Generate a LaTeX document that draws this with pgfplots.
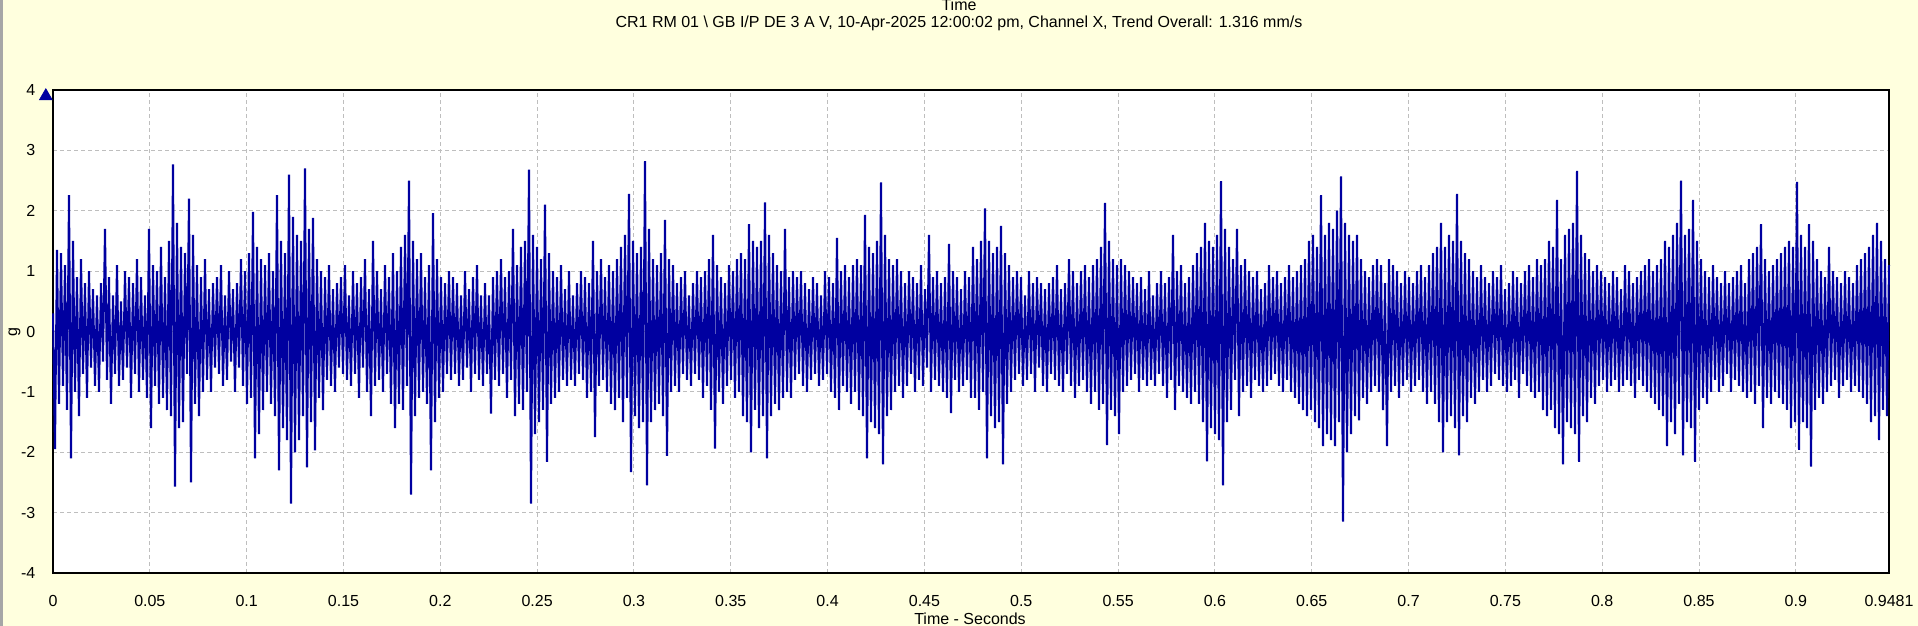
\documentclass[border=0pt]{standalone}
\usepackage{pgfplots}
\pgfplotsset{compat=1.18}
\usepackage{fontspec}
\setmainfont{Liberation Sans}
\definecolor{bgyel}{RGB}{255,255,222}
\definecolor{sig}{RGB}{0,0,160}
\definecolor{gridc}{RGB}{190,190,190}
\begin{document}
\begin{tikzpicture}[x=1pt,y=1pt,font=\fontsize{8}{9.6}\selectfont]
\useasboundingbox (0,0) rectangle (959,313);
\fill[bgyel] (0,0) rectangle (959,313);
\draw[gray!70,line width=1.2pt] (0.8,0) -- (0.8,313);
\begin{axis}[
  at={(26.5pt,26.5pt)}, anchor=south west,
  scale only axis, width=918pt, height=241.5pt,
  xmin=0, xmax=0.9481, ymin=-4, ymax=4,
  axis background/.style={fill=white},
  axis line style={black,line width=1pt},
  clip=false,
  xtick={0,0.05,0.1,0.15,0.2,0.25,0.3,0.35,0.4,0.45,0.5,0.55,0.6,0.65,0.7,0.75,0.8,0.85,0.9,0.9481},
  xticklabels={0,0.05,0.1,0.15,0.2,0.25,0.3,0.35,0.4,0.45,0.5,0.55,0.6,0.65,0.7,0.75,0.8,0.85,0.9,0.9481},
  ytick={-4,-3,-2,-1,0,1,2,3,4},
  yticklabels={-4,-3,-2,-1,0,1,2,3,4},
  major tick length=0pt,
  xmajorgrids, ymajorgrids,
  grid style={gridc,line width=0.5pt,dash pattern=on 2pt off 1.5pt},
  xticklabel style={yshift=-7.4pt},
  yticklabel style={xshift=-5.3pt},
  tick label style={font=\fontsize{8}{9.6}\selectfont},
]
\addplot[sig, line width=1pt, line join=bevel] table[row sep=\\, header=false, x expr=\coordindex*0.00103279, y index=0] {
0.3\\ -1.95\\ 1.35\\ -1.2\\ 1.3\\ -0.9\\ 1.1\\ -1.3\\ 2.26\\ -2.1\\ 1.5\\ -1.0\\ 0.9\\ -1.4\\ 1.2\\ -0.7\\ 0.8\\ -1.1\\ 1.0\\ -0.6\\
0.7\\ -0.9\\ 0.6\\ -1.0\\ 0.8\\ -0.5\\ 1.7\\ -0.8\\ 0.9\\ -1.2\\ 0.6\\ -0.7\\ 1.1\\ -0.9\\ 0.5\\ -0.8\\ 1.0\\ -0.6\\ 0.9\\ -1.1\\
0.8\\ -0.7\\ 1.2\\ -1.0\\ 0.9\\ -0.8\\ 0.6\\ -1.1\\ 1.7\\ -1.6\\ 1.1\\ -0.9\\ 1.0\\ -1.2\\ 1.4\\ -1.1\\ 0.9\\ -1.3\\ 1.5\\ -1.4\\
2.77\\ -2.57\\ 1.8\\ -1.6\\ 1.4\\ -1.5\\ 1.3\\ -0.7\\ 2.2\\ -2.5\\ 1.6\\ -1.2\\ 1.1\\ -1.4\\ 0.9\\ -1.0\\ 1.2\\ -0.8\\ 0.7\\ -1.0\\ 0.8\\
-0.6\\ 0.9\\ -0.7\\ 1.1\\ -0.9\\ 0.6\\ -0.8\\ 1.0\\ -0.5\\ 0.7\\ -1.0\\ 0.8\\ -0.6\\ 1.2\\ -0.9\\ 1.0\\ -1.2\\ 1.3\\ -1.1\\ 1.98\\
-2.1\\ 1.4\\ -1.7\\ 1.2\\ -1.3\\ 1.1\\ -1.0\\ 1.3\\ -1.2\\ 1.0\\ -1.4\\ 2.26\\ -2.3\\ 1.5\\ -1.6\\ 1.3\\ -1.8\\ 2.6\\ -2.85\\
1.9\\ -2.0\\ 1.6\\ -1.8\\ 1.5\\ -1.4\\ 2.7\\ -2.25\\ 1.7\\ -1.5\\ 1.88\\ -1.97\\ 1.2\\ -1.1\\ 1.0\\ -1.3\\ 0.9\\ -0.8\\ 1.1\\ -0.9\\
0.7\\ -1.0\\ 0.8\\ -0.6\\ 0.9\\ -0.7\\ 1.1\\ -0.8\\ 0.6\\ -0.9\\ 1.0\\ -0.7\\ 0.8\\ -1.1\\ 0.9\\ -0.6\\ 1.2\\ -1.0\\ 0.7\\ -1.4\\ 1.5\\
-0.9\\ 1.0\\ -0.8\\ 0.7\\ -1.0\\ 1.1\\ -0.7\\ 0.9\\ -1.2\\ 1.3\\ -1.6\\ 1.0\\ -1.2\\ 1.4\\ -1.3\\ 1.6\\ -0.9\\ 2.5\\ -2.7\\ 1.5\\
-1.4\\ 1.2\\ -1.1\\ 1.3\\ -1.0\\ 0.9\\ -1.2\\ 1.1\\ -2.3\\ 1.96\\ -1.5\\ 1.2\\ -1.1\\ 0.9\\ -1.0\\ 0.8\\ -0.7\\ 1.0\\ -0.8\\
0.9\\ -0.7\\ 0.8\\ -0.9\\ 0.6\\ -0.8\\ 1.0\\ -0.6\\ 0.7\\ -1.0\\ 0.9\\ -0.7\\ 1.1\\ -0.8\\ 0.6\\ -0.9\\ 0.8\\ -0.7\\ 0.6\\ -1.36\\ 0.9\\
-0.8\\ 1.0\\ -0.9\\ 1.2\\ -0.7\\ 0.9\\ -1.1\\ 1.0\\ -0.8\\ 1.7\\ -1.4\\ 1.1\\ -1.2\\ 1.4\\ -1.3\\ 1.5\\ -1.0\\ 2.68\\ -2.85\\ 1.6\\
-1.7\\ 1.4\\ -1.5\\ 1.2\\ -1.3\\ 2.1\\ -2.16\\ 1.3\\ -1.2\\ 1.0\\ -1.1\\ 0.9\\ -1.0\\ 1.1\\ -0.8\\ 0.7\\ -0.9\\ 1.0\\ -0.8\\
0.6\\ -0.9\\ 0.8\\ -0.7\\ 1.0\\ -0.8\\ 0.9\\ -1.1\\ 0.8\\ -1.0\\ 1.5\\ -1.75\\ 1.0\\ -0.9\\ 1.2\\ -0.8\\ 0.9\\ -1.0\\ 1.1\\ -1.2\\
1.0\\ -1.3\\ 1.2\\ -1.1\\ 1.4\\ -1.5\\ 1.6\\ -1.1\\ 2.28\\ -2.33\\ 1.5\\ -1.4\\ 1.3\\ -1.6\\ 1.4\\ -1.5\\ 2.82\\ -2.55\\ 1.7\\ -1.5\\ 1.2\\
-1.3\\ 1.1\\ -1.2\\ 1.3\\ -1.4\\ 1.85\\ -2.06\\ 1.2\\ -1.0\\ 1.1\\ -0.9\\ 0.8\\ -1.0\\ 0.9\\ -0.7\\ 1.0\\ -0.8\\ 0.6\\ -0.9\\ 0.8\\
-0.7\\ 1.0\\ -0.8\\ 0.9\\ -1.1\\ 1.0\\ -0.9\\ 1.2\\ -1.3\\ 1.6\\ -1.94\\ 1.1\\ -1.0\\ 0.9\\ -1.2\\ 0.8\\ -0.9\\ 1.1\\ -0.8\\ 1.0\\
-1.1\\ 1.2\\ -1.0\\ 1.3\\ -1.4\\ 1.2\\ -1.5\\ 1.78\\ -2.0\\ 1.5\\ -1.3\\ 1.4\\ -1.6\\ 1.5\\ -1.4\\ 2.14\\ -2.1\\ 1.6\\ -1.4\\ 1.3\\
-1.2\\ 1.1\\ -1.3\\ 1.0\\ -1.1\\ 1.7\\ -1.0\\ 0.9\\ -1.1\\ 1.0\\ -0.8\\ 0.9\\ -0.7\\ 1.0\\ -0.9\\ 0.8\\ -1.0\\ 0.7\\ -0.8\\ 0.9\\
-0.7\\ 0.8\\ -0.9\\ 0.6\\ -0.8\\ 1.0\\ -0.7\\ 0.9\\ -1.0\\ 0.8\\ -1.1\\ 1.55\\ -1.3\\ 1.0\\ -0.9\\ 1.1\\ -1.0\\ 0.9\\ -1.2\\ 1.1\\
-1.0\\ 1.2\\ -1.3\\ 1.1\\ -1.4\\ 1.93\\ -2.1\\ 1.4\\ -1.5\\ 1.3\\ -1.6\\ 1.5\\ -1.7\\ 2.47\\ -2.2\\ 1.6\\ -1.4\\ 1.2\\ -1.3\\
1.1\\ -1.0\\ 1.2\\ -0.9\\ 1.0\\ -1.1\\ 0.8\\ -0.9\\ 1.0\\ -0.7\\ 0.9\\ -1.0\\ 0.8\\ -0.8\\ 1.1\\ -0.9\\ 0.7\\ -0.6\\ 1.6\\ -1.0\\ 0.9\\
-0.8\\ 1.0\\ -0.9\\ 0.8\\ -1.0\\ 0.9\\ -1.1\\ 1.45\\ -1.35\\ 1.0\\ -0.8\\ 0.9\\ -1.0\\ 0.7\\ -0.9\\ 1.0\\ -0.8\\ 0.9\\ -1.1\\
1.4\\ -1.1\\ 1.2\\ -1.3\\ 1.5\\ -1.0\\ 2.04\\ -2.1\\ 1.5\\ -1.4\\ 1.3\\ -1.6\\ 1.4\\ -1.5\\ 1.75\\ -2.2\\ 1.3\\ -1.2\\ 1.1\\ -1.0\\ 0.9\\
-0.8\\ 1.0\\ -0.7\\ 0.9\\ -0.9\\ 0.6\\ -0.8\\ 1.0\\ -0.7\\ 0.8\\ -1.0\\ 0.9\\ -0.6\\ 0.8\\ -0.9\\ 0.7\\ -1.0\\ 0.8\\ -0.7\\ 0.9\\
-0.8\\ 1.1\\ -0.9\\ 0.7\\ -1.0\\ 0.8\\ -0.7\\ 1.2\\ -0.9\\ 1.0\\ -1.1\\ 0.8\\ -0.9\\ 1.0\\ -0.8\\ 1.1\\ -1.0\\ 0.9\\ -1.2\\ 1.1\\
-1.0\\ 1.2\\ -1.3\\ 1.4\\ -1.2\\ 2.13\\ -1.88\\ 1.5\\ -1.3\\ 1.2\\ -1.4\\ 1.1\\ -1.7\\ 1.2\\ -1.0\\ 1.1\\ -0.9\\ 1.0\\ -0.8\\ 0.9\\
-0.7\\ 0.8\\ -1.0\\ 0.9\\ -0.8\\ 0.7\\ -0.9\\ 1.0\\ -0.8\\ 0.6\\ -0.9\\ 0.8\\ -0.7\\ 1.0\\ -0.9\\ 0.8\\ -1.1\\ 0.9\\ -0.8\\
1.6\\ -1.3\\ 1.0\\ -0.9\\ 1.1\\ -1.0\\ 0.8\\ -1.1\\ 0.9\\ -1.2\\ 1.1\\ -1.0\\ 1.3\\ -1.2\\ 1.4\\ -1.5\\ 1.8\\ -2.15\\ 1.5\\ -1.6\\
1.4\\ -1.7\\ 1.6\\ -1.8\\ 2.49\\ -2.55\\ 1.7\\ -1.5\\ 1.4\\ -1.3\\ 1.2\\ -0.8\\ 1.7\\ -1.4\\ 1.1\\ -1.0\\ 1.2\\ -0.9\\ 1.0\\ -1.1\\ 0.9\\
-0.8\\ 1.0\\ -0.9\\ 0.7\\ -1.0\\ 0.8\\ -0.9\\ 1.1\\ -0.8\\ 0.9\\ -0.7\\ 1.0\\ -0.9\\ 0.8\\ -1.0\\ 0.9\\ -0.8\\ 1.1\\ -1.0\\ 0.9\\
-1.1\\ 1.0\\ -1.2\\ 1.1\\ -1.3\\ 1.2\\ -1.4\\ 1.5\\ -1.3\\ 1.6\\ -1.5\\ 1.4\\ -1.6\\ 2.26\\ -1.9\\ 1.6\\ -1.7\\ 1.8\\ -1.8\\
1.7\\ -1.9\\ 2.0\\ -1.5\\ 2.57\\ -3.15\\ 1.8\\ -2.0\\ 1.6\\ -1.7\\ 1.5\\ -1.4\\ 1.6\\ -1.47\\ 1.2\\ -1.1\\ 1.0\\ -1.2\\ 0.9\\ -1.0\\
1.1\\ -0.9\\ 1.2\\ -1.0\\ 1.1\\ -1.3\\ 0.8\\ -1.9\\ 1.2\\ -1.0\\ 1.1\\ -0.9\\ 1.0\\ -1.1\\ 0.8\\ -0.9\\ 1.0\\ -0.8\\ 0.9\\ -1.0\\ 0.8\\
-0.9\\ 1.0\\ -0.8\\ 1.1\\ -1.0\\ 0.9\\ -1.2\\ 1.1\\ -1.0\\ 1.3\\ -1.2\\ 1.4\\ -1.5\\ 1.8\\ -2.0\\ 1.4\\ -1.5\\ 1.6\\ -1.4\\
1.5\\ -1.6\\ 2.28\\ -2.05\\ 1.5\\ -1.4\\ 1.3\\ -1.5\\ 1.2\\ -1.1\\ 1.0\\ -1.2\\ 0.9\\ -1.0\\ 1.1\\ -0.8\\ 0.9\\ -1.0\\ 0.8\\ -0.9\\
1.0\\ -0.7\\ 0.9\\ -0.8\\ 1.1\\ -0.9\\ 0.7\\ -1.0\\ 0.8\\ -0.9\\ 1.0\\ -0.8\\ 0.9\\ -1.1\\ 0.8\\ -0.7\\ 1.0\\ -0.9\\ 1.1\\ -1.0\\
0.9\\ -1.1\\ 1.2\\ -1.0\\ 1.1\\ -1.3\\ 1.2\\ -1.4\\ 1.5\\ -1.3\\ 1.4\\ -1.6\\ 2.18\\ -1.7\\ 1.2\\ -2.2\\ 1.6\\ -1.5\\ 1.7\\ -1.6\\ 1.8\\
-1.7\\ 2.66\\ -2.16\\ 1.6\\ -1.4\\ 1.3\\ -1.5\\ 1.2\\ -1.1\\ 1.0\\ -1.2\\ 1.1\\ -0.9\\ 1.0\\ -0.8\\ 0.9\\ -1.0\\ 0.8\\ -0.9\\ 1.0\\
-0.8\\ 0.9\\ -1.0\\ 0.7\\ -0.9\\ 1.1\\ -0.8\\ 1.0\\ -0.9\\ 0.8\\ -1.1\\ 0.9\\ -0.8\\ 1.0\\ -0.9\\ 1.1\\ -1.0\\ 1.2\\ -1.1\\ 1.0\\
-1.2\\ 1.1\\ -1.3\\ 1.2\\ -1.4\\ 1.5\\ -1.9\\ 1.4\\ -1.5\\ 1.6\\ -1.7\\ 1.8\\ -1.2\\ 2.5\\ -2.05\\ 1.6\\ -1.5\\ 1.7\\ -1.6\\
2.18\\ -2.16\\ 1.5\\ -1.3\\ 1.2\\ -1.1\\ 1.0\\ -1.2\\ 0.9\\ -1.0\\ 1.1\\ -0.8\\ 0.9\\ -1.0\\ 0.8\\ -0.9\\ 1.0\\ -0.7\\ 0.8\\ -1.0\\
0.9\\ -0.8\\ 1.0\\ -0.9\\ 1.1\\ -1.0\\ 0.8\\ -1.1\\ 1.2\\ -1.0\\ 1.3\\ -1.2\\ 1.4\\ -0.9\\ 1.78\\ -1.6\\ 1.2\\ -1.1\\ 1.0\\ -1.2\\ 1.1\\
-1.0\\ 1.2\\ -1.1\\ 1.3\\ -1.2\\ 1.4\\ -1.3\\ 1.5\\ -1.6\\ 1.4\\ -1.5\\ 2.48\\ -1.96\\ 1.6\\ -1.5\\ 1.4\\ -1.6\\ 1.78\\ -2.24\\
1.5\\ -1.3\\ 1.2\\ -1.1\\ 1.0\\ -1.2\\ 0.9\\ -1.0\\ 1.4\\ -0.9\\ 1.0\\ -0.8\\ 0.9\\ -1.1\\ 0.8\\ -0.9\\ 1.0\\ -0.8\\ 0.9\\ -1.0\\
0.8\\ -0.9\\ 1.1\\ -1.0\\ 1.2\\ -1.1\\ 1.3\\ -1.2\\ 1.4\\ -1.5\\ 1.6\\ -1.4\\ 1.8\\ -1.8\\ 1.5\\ -1.3\\ 1.2\\ -1.4\\ 1.1\\
};
\addplot[only marks, mark=triangle*, mark size=3.6pt, color=sig] coordinates {(-0.0037,3.9)};
\end{axis}
\node at (479.5,310.5) {Time};
\node at (479.5,301.5) {CR1 RM 01 \textbackslash{} GB I/P DE 3 A V, 10-Apr-2025 12:00:02 pm, Channel X, Trend Overall: 1.316 mm/s};
\node at (485,3.5) {Time - Seconds};
\node[rotate=90] at (7.2,147) {g};
\end{tikzpicture}
\end{document}
